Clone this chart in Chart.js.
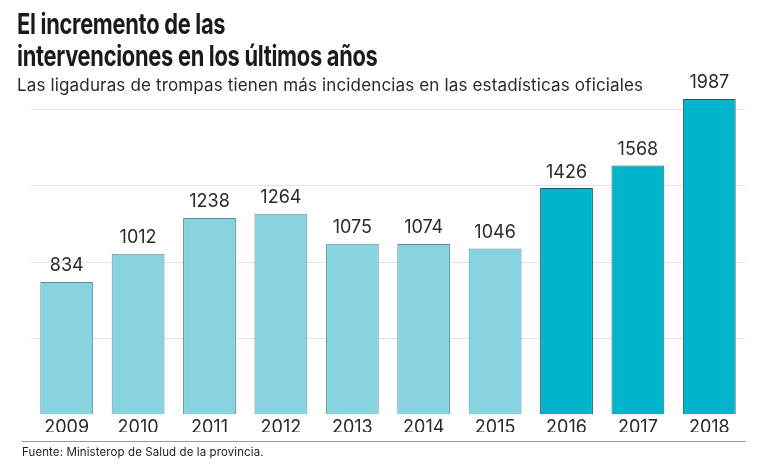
<!DOCTYPE html>
<html>
<head>
<meta charset="utf-8">
<script src="https://cdn.jsdelivr.net/npm/chart.js@4"></script>
<style>
  body { margin: 0; background: #fff; font-family: Inter, "Liberation Sans", sans-serif; color: #222; }
  #wrap { position: relative; width: 768px; height: 467px; overflow: hidden; }
  #chart { position: absolute; left: 0; top: 0; }
  .title { position: absolute; left: 17px; top: 8px; font-size: 29px; line-height: 32px; font-weight: 700; letter-spacing: -0.4px; color: #1a1a1a; white-space: nowrap; transform: scaleX(0.755); transform-origin: left top; }
  .sub { position: absolute; left: 17px; top: 75px; font-size: 17px; line-height: 20px; color: #2a2a2a; letter-spacing: 0.15px; white-space: nowrap; }
  .rule { position: absolute; left: 22px; top: 441px; width: 724px; height: 0; border-top: 1px solid #9a9a9a; }
  .src { position: absolute; left: 22px; top: 445px; font-size: 11.5px; color: #222; letter-spacing: 0.1px; }
</style>
</head>
<body>
<div id="wrap">
  <canvas id="chart" width="768" height="467"></canvas>
  <div class="title">El incremento de las<br>intervenciones en los últimos años</div>
  <div class="sub">Las ligaduras de trompas tienen más incidencias en las estadísticas oficiales</div>
  <div class="rule"></div>
  <div class="src">Fuente: Ministerop de Salud de la provincia.</div>
</div>
<script>
// chart data
const years = ["2009", "2010", "2011", "2012", "2013", "2014", "2015", "2016", "2017", "2018"];
const interventions = [834, 1012, 1238, 1264, 1075, 1074, 1046, 1426, 1568, 1987];
const gridValues = [480, 960, 1440, 1920];

// older years light, last three dark
const barColors = years.map(y => Number(y) >= 2016 ? "#00b5cc" : "#88d3e0");
const borderColors = years.map(y => Number(y) >= 2016 ? "#1f5e68" : "#5a8f98");

// draw the value above every bar
const valueLabels = {
  id: "valueLabels",
  afterDatasetsDraw(chart) {
    const ctx = chart.ctx;
    const meta = chart.getDatasetMeta(0);
    ctx.save();
    ctx.font = "18px Inter, 'Liberation Sans', sans-serif";
    ctx.fillStyle = "#2a2a2a";
    ctx.textAlign = "center";
    ctx.textBaseline = "bottom";
    meta.data.forEach((bar, i) => {
      ctx.fillText(String(chart.data.datasets[0].data[i]), bar.x, bar.y - 7);
    });
    ctx.restore();
  }
};

const ctx = document.getElementById("chart").getContext("2d");
new Chart(ctx, {
  type: "bar",
  data: {
    labels: years,
    datasets: [{
      data: interventions,
      backgroundColor: barColors,
      borderColor: borderColors,
      borderWidth: 1,
      barPercentage: 0.74,
      categoryPercentage: 1
    }]
  },
  options: {
    responsive: false,
    animation: false,
    layout: { padding: { top: 97, left: 31, right: 23, bottom: 35 } },
    plugins: { legend: { display: false }, tooltip: { enabled: false } },
    scales: {
      x: {
        grid: { display: false },
        border: { display: false },
        ticks: { color: "#2a2a2a", font: { size: 18, family: "Inter, 'Liberation Sans', sans-serif" }, padding: -6 }
      },
      y: {
        min: 0,
        max: 2000,
        afterBuildTicks(scale) { scale.ticks = gridValues.map(v => ({ value: v })); },
        grid: { color: "#e2e2e2", drawTicks: false },
        border: { display: false },
        ticks: { display: false }
      }
    }
  },
  plugins: [valueLabels]
});
</script>
</body>
</html>
